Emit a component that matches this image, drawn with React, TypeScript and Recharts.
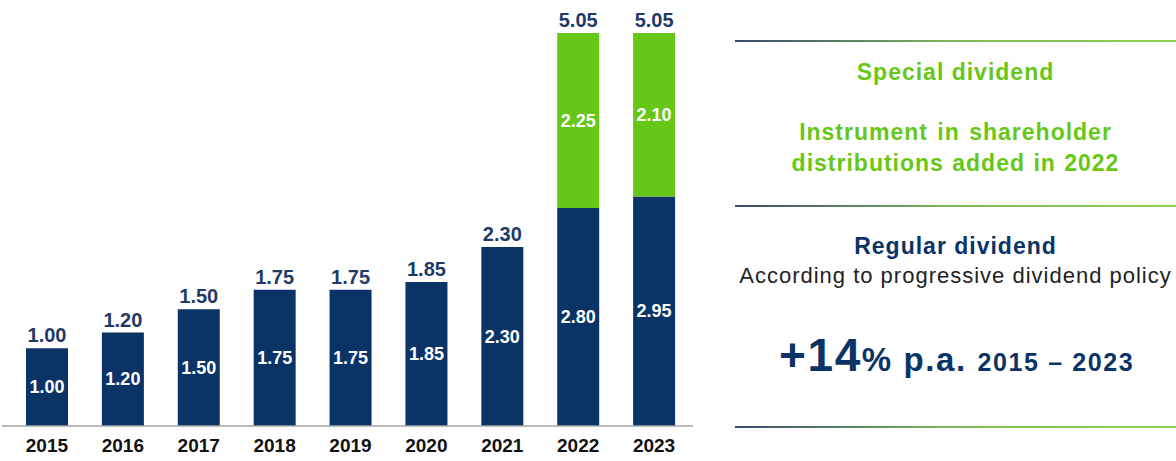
import React from 'react';
import { BarChart, Bar, XAxis, YAxis, LabelList } from 'recharts';

const years = ['2015', '2016', '2017', '2018', '2019', '2020', '2021', '2022', '2023'];
const regular = [1.0, 1.2, 1.5, 1.75, 1.75, 1.85, 2.3, 2.8, 2.95];
const special = [0, 0, 0, 0, 0, 0, 0, 2.25, 2.1];

const NAVY = '#0b3466';
const GREEN = '#67c716';
const LABEL_NAVY = '#1f3a66';
const FONT = '"Liberation Sans", Arial, sans-serif';

const data = years.map((y, i) => ({
  year: y,
  regular: regular[i],
  special: special[i] || null,
  total: regular[i] + special[i],
}));

const fmt = (v: number) => v.toFixed(2);

// white value in the middle of a segment
const InsideLabel = (props: any) => {
  const { x, y, width, height, value } = props;
  if (value == null || !height) return null;
  return (
    <text
      x={x + width / 2}
      y={y + height / 2}
      textAnchor="middle"
      dominantBaseline="central"
      fill="#ffffff"
      fontFamily={FONT}
      fontWeight="bold"
      fontSize={18}
    >
      {fmt(value)}
    </text>
  );
};

const TotalText = ({ x, y, value }: { x: number; y: number; value: number }) => (
  <text
    x={x}
    y={y - 6}
    textAnchor="middle"
    fill={LABEL_NAVY}
    fontFamily={FONT}
    fontWeight="bold"
    fontSize={20}
  >
    {fmt(value)}
  </text>
);

// total above a plain regular bar
const RegularTotal = (props: any) => {
  const { x, y, width, index } = props;
  const d = data[index];
  if (!d || d.special) return null;
  return <TotalText x={x + width / 2} y={y} value={d.total} />;
};

// total above a bar with a special part
const SpecialTotal = (props: any) => {
  const { x, y, width, height, value } = props;
  if (value == null || !height) return null;
  return <TotalText x={x + width / 2} y={y} value={value} />;
};

const lineStyle = (top: number): React.CSSProperties => ({
  position: 'absolute',
  left: 735,
  top,
  width: 441,
  height: 2,
  background: 'linear-gradient(to right, #3a4a6e, #7fb95a 50%, #8fd14f)',
});

const centerText = (top: number, extra: React.CSSProperties): React.CSSProperties => ({
  position: 'absolute',
  left: 735,
  width: 441,
  top,
  textAlign: 'center',
  fontFamily: FONT,
  whiteSpace: 'nowrap',
  lineHeight: 1,
  ...extra,
});

export default function App() {
  return (
    <div style={{ position: 'absolute', left: 0, top: 0, width: 1176, height: 461, background: '#fff' }}>
      <BarChart
        width={700}
        height={461}
        data={data}
        margin={{ top: 33, right: 7, bottom: 0, left: 2 }}
        barSize={42}
      >
        <XAxis
          dataKey="year"
          height={35}
          padding={{ left: 7, right: 1 }}
          axisLine={{ stroke: '#a6a6a6', strokeWidth: 1.5 }}
          tickLine={false}
          tick={{ fill: '#111', fontSize: 19, fontWeight: 'bold', fontFamily: FONT }}
          tickMargin={7}
        />
        <YAxis hide domain={[0, 5.05]} />
        <Bar dataKey="regular" stackId="a" fill={NAVY} isAnimationActive={false}>
          <LabelList dataKey="regular" content={InsideLabel} />
          <LabelList dataKey="regular" content={RegularTotal} />
        </Bar>
        <Bar dataKey="special" stackId="a" fill={GREEN} isAnimationActive={false}>
          <LabelList dataKey="special" content={InsideLabel} />
          <LabelList dataKey="total" content={SpecialTotal} />
        </Bar>
      </BarChart>

      <div style={lineStyle(40)} />
      <div style={lineStyle(205)} />
      <div style={lineStyle(426)} />

      <div style={centerText(61, { color: GREEN, fontWeight: 'bold', fontSize: 23, letterSpacing: 1 })}>
        Special dividend
      </div>
      <div style={centerText(121, { color: GREEN, fontWeight: 'bold', fontSize: 23, letterSpacing: 1, wordSpacing: 2 })}>
        Instrument in shareholder
      </div>
      <div style={centerText(152, { color: GREEN, fontWeight: 'bold', fontSize: 23, letterSpacing: 1, wordSpacing: 1 })}>
        distributions added in 2022
      </div>
      <div style={centerText(235, { color: NAVY, fontWeight: 'bold', fontSize: 23, letterSpacing: 1 })}>
        Regular dividend
      </div>
      <div style={centerText(265, { color: '#222', fontSize: 22, letterSpacing: 1 })}>
        According to progressive dividend policy
      </div>
      <div style={{ position: 'absolute', left: 779, top: 332, fontFamily: FONT, fontWeight: 'bold', color: NAVY, whiteSpace: 'nowrap', lineHeight: 1, letterSpacing: 1.6 }}>
        <span style={{ fontSize: 46 }}>+14</span>
        <span style={{ fontSize: 33 }}>% p.a. </span>
        <span style={{ fontSize: 25 }}>2015 – 2023</span>
      </div>
    </div>
  );
}
